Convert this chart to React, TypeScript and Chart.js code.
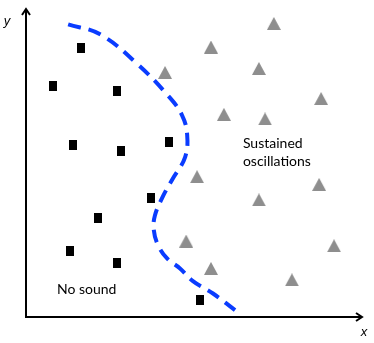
import React, { useEffect, useRef } from "react";
import { Chart, registerables } from "chart.js";

Chart.register(...registerables);

// "No sound" samples (black squares)
const noSoundX = [16.2, 7.9, 26.8, 13.8, 27.9, 42.1, 36.8, 21.2, 12.9, 26.8, 51.2];
const noSoundY = [87.1, 74.8, 73.3, 55.7, 53.8, 56.9, 38.7, 32.1, 21.7, 17.6, 5.7];

// "Sustained oscillations" samples (grey triangles)
const oscX = [72.9, 54.4, 40.9, 68.5, 86.8, 58.2, 70.3, 50.3, 86.2, 68.5, 47.1, 90.6, 54.4, 78.2];
const oscY = [95.0, 87.4, 79.2, 80.5, 70.8, 65.7, 64.2, 45.6, 43.1, 38.1, 24.8, 23.3, 16.0, 12.3];

// Boundary curve (dashed)
const boundaryX = [12.4, 21.8, 32.6, 41.8, 45.9, 47.4, 46.8, 43.2, 40.3, 37.9, 37.6, 38.8, 41.5, 45.3, 49.1, 55.0, 62.6];
const boundaryY = [94.7, 91.5, 82.1, 71.7, 65.4, 59.1, 51.9, 45.0, 39.3, 33.0, 28.3, 23.6, 19.2, 16.0, 11.9, 7.9, 1.6];

// Region labels
const regionLabels = [
  { lines: ["Sustained", "oscillations"], x: 63.8, y: 55.0 },
  { lines: ["No sound"], x: 9.1, y: 7.9 },
];
const axisTitleX = "x";
const axisTitleY = "y";

const pts = (xs: number[], ys: number[]) => xs.map((x, i) => ({ x, y: ys[i] }));

function makeSquare() {
  const c = document.createElement("canvas");
  c.width = 8;
  c.height = 10;
  const ctx = c.getContext("2d")!;
  ctx.fillStyle = "#000";
  ctx.fillRect(0, 0, 8, 10);
  return c;
}

function makeTriangle() {
  const c = document.createElement("canvas");
  c.width = 14;
  c.height = 13;
  const ctx = c.getContext("2d")!;
  ctx.fillStyle = "#8e8e8e";
  ctx.beginPath();
  ctx.moveTo(0, 13);
  ctx.lineTo(7, 0);
  ctx.lineTo(14, 13);
  ctx.closePath();
  ctx.fill();
  return c;
}

const decorPlugin = {
  id: "decor",
  afterDatasetsDraw(chart: any) {
    const { ctx, chartArea, scales } = chart;
    const xs = scales.x;
    const ys = scales.y;
    ctx.save();
    // axes
    ctx.strokeStyle = "#000";
    ctx.lineWidth = 2;
    const ox = chartArea.left;
    const oy = chartArea.bottom - 1;
    ctx.beginPath();
    ctx.moveTo(ox, oy);
    ctx.lineTo(ox, 9);
    ctx.moveTo(ox - 4, 15);
    ctx.lineTo(ox, 9);
    ctx.lineTo(ox + 4, 15);
    ctx.moveTo(ox - 1, oy);
    ctx.lineTo(362, oy);
    ctx.moveTo(356, oy - 4);
    ctx.lineTo(362, oy);
    ctx.lineTo(356, oy + 4);
    ctx.stroke();

    // axis titles
    ctx.fillStyle = "#000";
    ctx.font = "italic 13px 'Liberation Sans', Arial, sans-serif";
    ctx.textAlign = "center";
    ctx.textBaseline = "middle";
    ctx.fillText(axisTitleY, 7, 21);
    ctx.fillText(axisTitleX, 364, 332);

    // region labels
    ctx.font = "14px Lato, 'Liberation Sans', sans-serif";
    ctx.textAlign = "left";
    ctx.textBaseline = "alphabetic";
    regionLabels.forEach((lab) => {
      const px = xs.getPixelForValue(lab.x);
      const py = ys.getPixelForValue(lab.y);
      lab.lines.forEach((ln, i) => ctx.fillText(ln, px, py + i * 18));
    });
    ctx.restore();
  },
};

export default function App() {
  const ref = useRef<HTMLCanvasElement>(null);
  useEffect(() => {
    if (!ref.current) return;
    const chart = new Chart(ref.current, {
      type: "scatter",
      data: {
        datasets: [
          {
            type: "line",
            data: pts(boundaryX, boundaryY),
            borderColor: "#0a3cff",
            borderWidth: 4,
            borderDash: [13, 8],
            borderCapStyle: "butt",
            pointRadius: 0,
            tension: 0.4,
            fill: false,
            clip: false,
          } as any,
          {
            data: pts(noSoundX, noSoundY),
            pointStyle: makeSquare() as any,
            pointRadius: 5,
            clip: false,
          } as any,
          {
            data: pts(oscX, oscY),
            pointStyle: makeTriangle() as any,
            pointRadius: 7,
            clip: false,
          } as any,
        ],
      },
      options: {
        responsive: false,
        animation: false,
        devicePixelRatio: 1,
        layout: { padding: { left: 26, right: 8, top: 0, bottom: 25 } },
        plugins: { legend: { display: false }, tooltip: { enabled: false } },
        scales: {
          x: { type: "linear", min: 0, max: 100, display: false },
          y: { type: "linear", min: 0, max: 100, display: false },
        },
      },
      plugins: [decorPlugin],
    });
    return () => chart.destroy();
  }, []);
  return (
    <div style={{ position: "fixed", left: 0, top: 0, width: 374, height: 343, background: "#fff" }}>
      <canvas ref={ref} width={374} height={343} />
    </div>
  );
}
